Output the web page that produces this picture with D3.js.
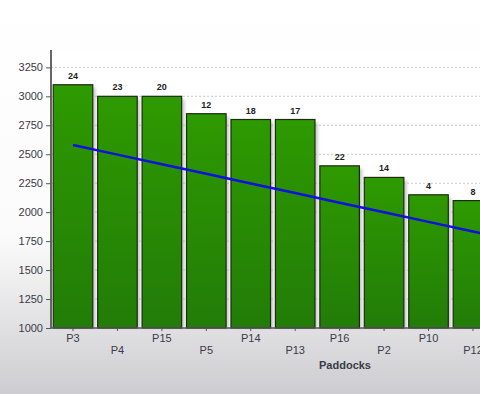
<!DOCTYPE html>
<html>
<head>
<meta charset="utf-8">
<script src="https://cdn.jsdelivr.net/npm/d3@7"></script>
<style>
  html, body { margin: 0; padding: 0; }
  body { width: 480px; height: 394px; overflow: hidden; font-family: "Liberation Sans", Arial, sans-serif; }
</style>
</head>
<body>
<div id="chart"></div>
<script>
// Du lieu doc tu hinh (bieu do bi cat o ben phai)
const paddocks = ["P3", "P4", "P15", "P5", "P14", "P13", "P16", "P2", "P10", "P12"];
const values = [3100, 3000, 3000, 2850, 2800, 2800, 2400, 2300, 2150, 2100];
const counts = [24, 23, 20, 12, 18, 17, 22, 14, 4, 8];
// duong xu huong, diem cuoi nam o cot tiep theo (ngoai khung hinh)
const trend = [2580, 2497, 2414, 2331, 2248, 2165, 2082, 1999, 1916, 1833, 1750];
const yTicks = [1000, 1250, 1500, 1750, 2000, 2250, 2500, 2750, 3000, 3250];

const width = 480, height = 394;
const margin = { top: 50, left: 51, bottom: 66 };

const svg = d3.select("#chart").append("svg")
  .attr("width", width)
  .attr("height", height);

const defs = svg.append("defs");

// nen xam o duoi
const bg = defs.append("linearGradient").attr("id", "bg")
  .attr("x1", 0).attr("y1", 0).attr("x2", 0).attr("y2", 1);
bg.append("stop").attr("offset", "0%").attr("stop-color", "#ffffff");
bg.append("stop").attr("offset", "60%").attr("stop-color", "#fbfbfb");
bg.append("stop").attr("offset", "100%").attr("stop-color", "#cdcdd1");

const barGrad = defs.append("linearGradient").attr("id", "barGrad")
  .attr("x1", 0).attr("y1", 0).attr("x2", 0).attr("y2", 1);
barGrad.append("stop").attr("offset", "0%").attr("stop-color", "#2e9a00");
barGrad.append("stop").attr("offset", "100%").attr("stop-color", "#227c08");

const blur = defs.append("filter").attr("id", "shadow")
  .attr("x", "-20%").attr("y", "-20%").attr("width", "140%").attr("height", "140%");
blur.append("feGaussianBlur").attr("stdDeviation", 1.5);

svg.append("rect")
  .attr("width", width).attr("height", height)
  .attr("fill", "url(#bg)");

const plotBottom = height - margin.bottom;

// vung ve trang
svg.append("rect")
  .attr("x", margin.left).attr("y", margin.top)
  .attr("width", width - margin.left).attr("height", plotBottom - margin.top)
  .attr("fill", "#ffffff");

// them mot cot an de duong xu huong chay ra mep
const slots = paddocks.concat([""]);
const x = d3.scaleBand()
  .domain(slots)
  .range([margin.left, margin.left + 44.4 * slots.length])
  .paddingInner(0.11)
  .paddingOuter(0.05);

const y = d3.scaleLinear()
  .domain([1000, 3400])
  .range([plotBottom, margin.top]);

// luoi ngang
svg.append("g")
  .selectAll("line")
  .data(yTicks.slice(1))
  .enter()
  .append("line")
  .attr("x1", margin.left).attr("x2", width)
  .attr("y1", d => y(d)).attr("y2", d => y(d))
  .attr("stroke", "#c8c8c8")
  .attr("stroke-dasharray", "2,2");

const bars = paddocks.map((p, i) => ({ name: p, value: values[i], count: counts[i] }));

// bong cua cot
svg.append("g")
  .selectAll("rect")
  .data(bars)
  .enter()
  .append("rect")
  .attr("x", d => x(d.name) + 3)
  .attr("y", d => y(d.value) + 3)
  .attr("width", x.bandwidth())
  .attr("height", d => plotBottom - y(d.value) - 3)
  .attr("fill", "#a8a8ae")
  .attr("opacity", 0.6)
  .attr("filter", "url(#shadow)");

svg.append("g")
  .selectAll(".bar")
  .data(bars)
  .enter()
  .append("rect")
  .attr("class", "bar")
  .attr("x", d => x(d.name))
  .attr("y", d => y(d.value))
  .attr("width", x.bandwidth())
  .attr("height", d => plotBottom - y(d.value))
  .attr("fill", "url(#barGrad)")
  .attr("stroke", "#1c2a12")
  .attr("stroke-width", 1.2);

// nhan so luong
svg.append("g")
  .selectAll("text")
  .data(bars)
  .enter()
  .append("text")
  .attr("x", d => x(d.name) + x.bandwidth() / 2)
  .attr("y", d => y(d.value) - 6)
  .attr("text-anchor", "middle")
  .attr("font-size", "9px")
  .attr("font-weight", "bold")
  .attr("fill", "#222")
  .text(d => d.count);

// duong xu huong
const line = d3.line()
  .x((d, i) => x(slots[i]) + x.bandwidth() / 2)
  .y(d => y(d));

svg.append("path")
  .datum(trend)
  .attr("d", line)
  .attr("fill", "none")
  .attr("stroke", "#1010e0")
  .attr("stroke-width", 2.5);

// truc Y
const yAxis = svg.append("g")
  .attr("transform", `translate(${margin.left},0)`)
  .call(d3.axisLeft(y).tickValues(yTicks).tickFormat(d3.format("d"))
    .tickSize(5).tickSizeOuter(0).tickPadding(3));
yAxis.select(".domain").attr("stroke", "#666").attr("stroke-width", 2)
  .attr("d", `M0,${margin.top}V${plotBottom}`);
yAxis.selectAll(".tick line").attr("stroke", "#555");
yAxis.selectAll(".tick text")
  .attr("font-size", "11px")
  .attr("font-family", "Liberation Sans, Arial, sans-serif")
  .attr("fill", "#3a3a48");

// truc X
const xAxis = svg.append("g")
  .attr("transform", `translate(0,${plotBottom})`)
  .call(d3.axisBottom(x).tickSize(3).tickSizeOuter(0).tickPadding(3));
xAxis.select(".domain").attr("stroke", "#555").attr("stroke-width", 1.5)
  .attr("d", `M${margin.left},0H${width}`);
xAxis.selectAll(".tick line").attr("stroke", "#555");
xAxis.selectAll(".tick text")
  .attr("font-size", "11px")
  .attr("font-family", "Liberation Sans, Arial, sans-serif")
  .attr("fill", "#3a3a48")
  .attr("dy", (d, i) => i % 2 === 0 ? "0.71em" : "1.85em");

svg.append("text")
  .attr("x", 345)
  .attr("y", 369)
  .attr("text-anchor", "middle")
  .attr("font-size", "11px")
  .attr("font-weight", "bold")
  .attr("fill", "#3a3a48")
  .text("Paddocks");
</script>
</body>
</html>
